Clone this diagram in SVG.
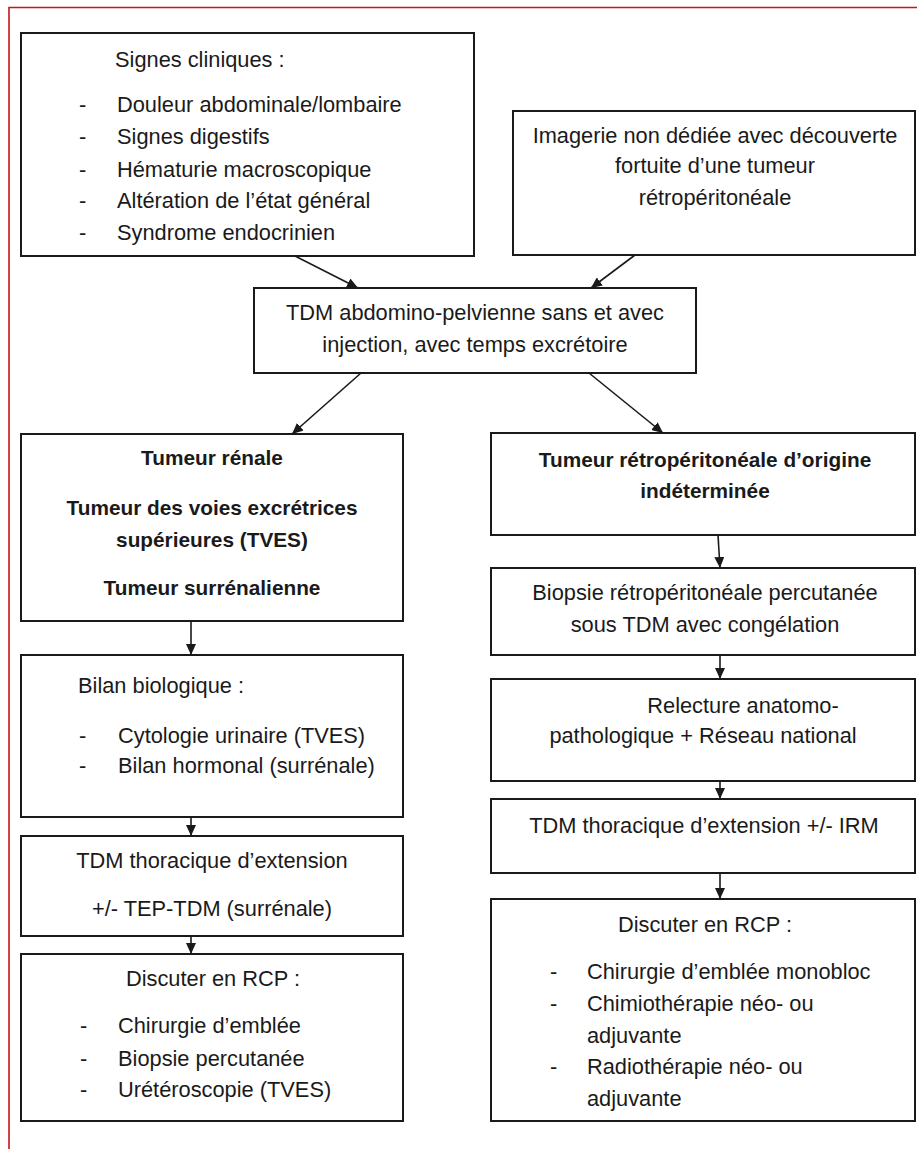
<svg xmlns="http://www.w3.org/2000/svg" width="917" height="1149" viewBox="0 0 917 1149">
<style>
.box{fill:#fff;stroke:#1a1a1a;stroke-width:2}
text{font-family:"Liberation Sans",Arial,sans-serif;font-size:21.8px;fill:#1a1a1a}
.c{text-anchor:middle}
.b{font-weight:bold;font-size:20.8px}
.con{stroke:#1a1a1a;stroke-width:1.6;fill:none;marker-end:url(#ah)}
</style>
<defs>
<marker id="ah" markerUnits="userSpaceOnUse" markerWidth="11" markerHeight="10" refX="11" refY="5" orient="auto">
<path d="M0,0 L11,5 L0,10 z" fill="#1a1a1a"/>
</marker>
</defs>
<rect width="917" height="1149" fill="#fff"/>
<path d="M9,1149 V7.5 H917" fill="none" stroke="#c4161c" stroke-width="1.6"/>

<g id="n-signes">
<rect class="box" x="21" y="33" width="453" height="223"/>
<text x="115" y="67">Signes cliniques :</text>
<text x="79" y="112">-</text><text x="117" y="112">Douleur abdominale/lombaire</text>
<text x="79" y="144">-</text><text x="117" y="144">Signes digestifs</text>
<text x="79" y="177">-</text><text x="117" y="177">Hématurie macroscopique</text>
<text x="79" y="208">-</text><text x="117" y="208">Altération de l’état général</text>
<text x="79" y="240">-</text><text x="117" y="240">Syndrome endocrinien</text>
</g>

<g id="n-imagerie">
<rect class="box" x="513" y="111" width="402" height="144"/>
<text class="c" x="715" y="143">Imagerie non dédiée avec découverte</text>
<text class="c" x="715" y="173">fortuite d’une tumeur</text>
<text class="c" x="715" y="205">rétropéritonéale</text>
</g>

<g id="n-tdm-ap">
<rect class="box" x="254" y="288" width="442" height="85"/>
<text class="c" x="475" y="320">TDM abdomino-pelvienne sans et avec</text>
<text class="c" x="475" y="352">injection, avec temps excrétoire</text>
</g>

<g id="n-tumeur-renale">
<rect class="box" x="21" y="434" width="382" height="187"/>
<text class="c b" x="212" y="465">Tumeur rénale</text>
<text class="c b" x="212" y="515">Tumeur des voies excrétrices</text>
<text class="c b" x="212" y="547">supérieures (TVES)</text>
<text class="c b" x="212" y="595">Tumeur surrénalienne</text>
</g>

<g id="n-bilan">
<rect class="box" x="21" y="655" width="382" height="162"/>
<text x="78" y="693">Bilan biologique :</text>
<text x="79" y="743">-</text><text x="118" y="743">Cytologie urinaire (TVES)</text>
<text x="79" y="773">-</text><text x="118" y="773">Bilan hormonal (surrénale)</text>
</g>

<g id="n-tdm-thor-l">
<rect class="box" x="21" y="836" width="382" height="100"/>
<text class="c" x="212" y="868">TDM thoracique d’extension</text>
<text class="c" x="212" y="916">+/- TEP-TDM (surrénale)</text>
</g>

<g id="n-rcp-l">
<rect class="box" x="21" y="954" width="382" height="167"/>
<text class="c" x="213" y="986">Discuter en RCP :</text>
<text x="80" y="1033">-</text><text x="118" y="1033">Chirurgie d’emblée</text>
<text x="80" y="1066">-</text><text x="118" y="1066">Biopsie percutanée</text>
<text x="80" y="1097">-</text><text x="118" y="1097">Urétéroscopie (TVES)</text>
</g>

<g id="n-tumeur-retro">
<rect class="box" x="491" y="433" width="424" height="102"/>
<text class="c b" x="705" y="467">Tumeur rétropéritonéale d’origine</text>
<text class="c b" x="705" y="498">indéterminée</text>
</g>

<g id="n-biopsie">
<rect class="box" x="491" y="568" width="424" height="87"/>
<text class="c" x="705" y="600">Biopsie rétropéritonéale percutanée</text>
<text class="c" x="705" y="632">sous TDM avec congélation</text>
</g>

<g id="n-relecture">
<rect class="box" x="491" y="679" width="424" height="102"/>
<text class="c" x="743" y="713">Relecture anatomo-</text>
<text class="c" x="703" y="743">pathologique + Réseau national</text>
</g>

<g id="n-tdm-thor-r">
<rect class="box" x="491" y="799" width="424" height="74"/>
<text class="c" x="704" y="833">TDM thoracique d’extension +/- IRM</text>
</g>

<g id="n-rcp-r">
<rect class="box" x="491" y="899" width="424" height="222"/>
<text class="c" x="705" y="932">Discuter en RCP :</text>
<text x="550" y="979">-</text><text x="587" y="979">Chirurgie d’emblée monobloc</text>
<text x="550" y="1011">-</text><text x="587" y="1011">Chimiothérapie néo- ou</text>
<text x="587" y="1043">adjuvante</text>
<text x="550" y="1074">-</text><text x="587" y="1074">Radiothérapie néo- ou</text>
<text x="587" y="1106">adjuvante</text>
</g>

<g id="connectors">
<line class="con" x1="295" y1="256" x2="358" y2="288"/>
<line class="con" x1="635" y1="255" x2="591" y2="288"/>
<line class="con" x1="361" y1="373" x2="292" y2="434"/>
<line class="con" x1="589" y1="373" x2="663" y2="433"/>
<line class="con" x1="191" y1="621" x2="191" y2="655"/>
<line class="con" x1="191" y1="817" x2="191" y2="836"/>
<line class="con" x1="191" y1="936" x2="191" y2="954"/>
<line class="con" x1="718" y1="535" x2="720" y2="568"/>
<line class="con" x1="720" y1="655" x2="720" y2="679"/>
<line class="con" x1="720" y1="781" x2="720" y2="799"/>
<line class="con" x1="720" y1="873" x2="720" y2="899"/>
</g>
</svg>
